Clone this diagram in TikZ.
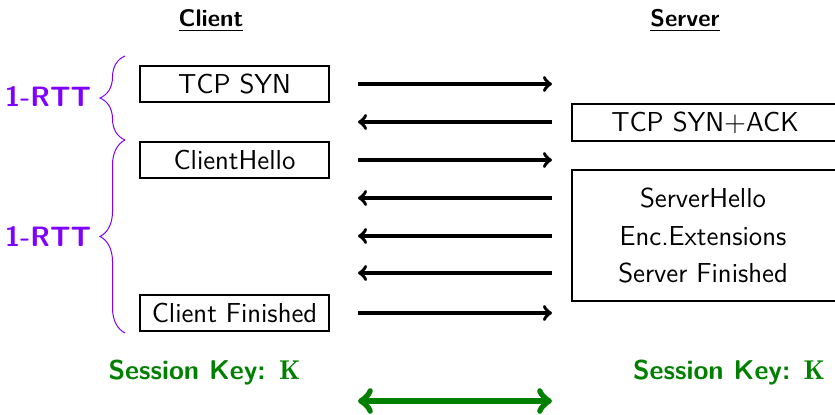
\documentclass[tikz,border=0pt]{standalone}
\usepackage{fontspec}
\usetikzlibrary{decorations.pathreplacing}
\definecolor{rttpurple}{RGB}{127,0,255}
\definecolor{keygreen}{RGB}{0,128,0}
\begin{document}
\begin{tikzpicture}[x=0.5pt,y=-0.5pt,
  font=\sffamily\fontsize{13.7}{16}\selectfont,
  msgbox/.style={draw,line width=1pt,minimum width=94.5pt,minimum height=18pt,inner sep=0pt},
  srvbox/.style={draw,line width=1pt,minimum width=133pt,inner sep=0pt},
  msg/.style={line width=1.8pt},
  party/.style={anchor=base,font=\sffamily\bfseries\fontsize{12}{14}\selectfont},
  rtt/.style={anchor=base,text=rttpurple,font=\sffamily\bfseries\fontsize{14}{16}\selectfont},
  rttbrace/.style={draw=rttpurple,line width=0.5pt,decorate,decoration={brace,amplitude=12.5pt}},
  keylabel/.style={anchor=base,text=keygreen,font=\sffamily\bfseries\fontsize{13.6}{16}\selectfont}]
\useasboundingbox (0,0) rectangle (835,415);

% column headings
\node[party] (client) at (211,27) {\underline{Client}};
\node[party] (server) at (685,27) {\underline{Server}};

% client messages
\node[msgbox] (syn) at (234.5,84) {TCP SYN};
\node[msgbox] (chello) at (234.5,160) {ClientHello};
\node[msgbox] (cfin) at (234.5,313) {Client Finished};

% server messages
\node[srvbox,minimum height=18.5pt] (synack) at (705,122.5) {TCP SYN$+$ACK};
\node[srvbox,minimum height=65.5pt] (sflight) at (705,235.5) {};
\node (shello) at (703,198) {ServerHello};
\node (encext) at (703,236) {Enc.Extensions};
\node (sfin) at (703,273) {Server Finished};

% arrow end points
\foreach \i/\y in {1/84,2/122,3/160,4/198,5/236,6/273,7/313,8/401}{
  \coordinate (l\i) at (358,\y);
  \coordinate (r\i) at (552,\y);
}
\draw[msg,->] (l1) -- (r1);
\draw[msg,<-] (l2) -- (r2);
\draw[msg,->] (l3) -- (r3);
\draw[msg,<-] (l4) -- (r4);
\draw[msg,<-] (l5) -- (r5);
\draw[msg,<-] (l6) -- (r6);
\draw[msg,->] (l7) -- (r7);

% round trips
\coordinate (b0) at (125,56);
\coordinate (b1) at (125,140);
\coordinate (b2) at (125,333);
\draw[rttbrace] (b1) -- (b0);
\draw[rttbrace] (b2) -- (b1);
\node[rtt] (rtt1) at (48,107) {1-RTT};
\node[rtt] (rtt2) at (48,247) {1-RTT};

% shared key
\node[keylabel] (keyc) at (204.5,380) {Session Key: $\mathbf{K}$};
\node[keylabel] (keys) at (729,380) {Session Key: $\mathbf{K}$};
\draw[keygreen,line width=3.3pt,<->] (l8) -- (r8);
\end{tikzpicture}
\end{document}
